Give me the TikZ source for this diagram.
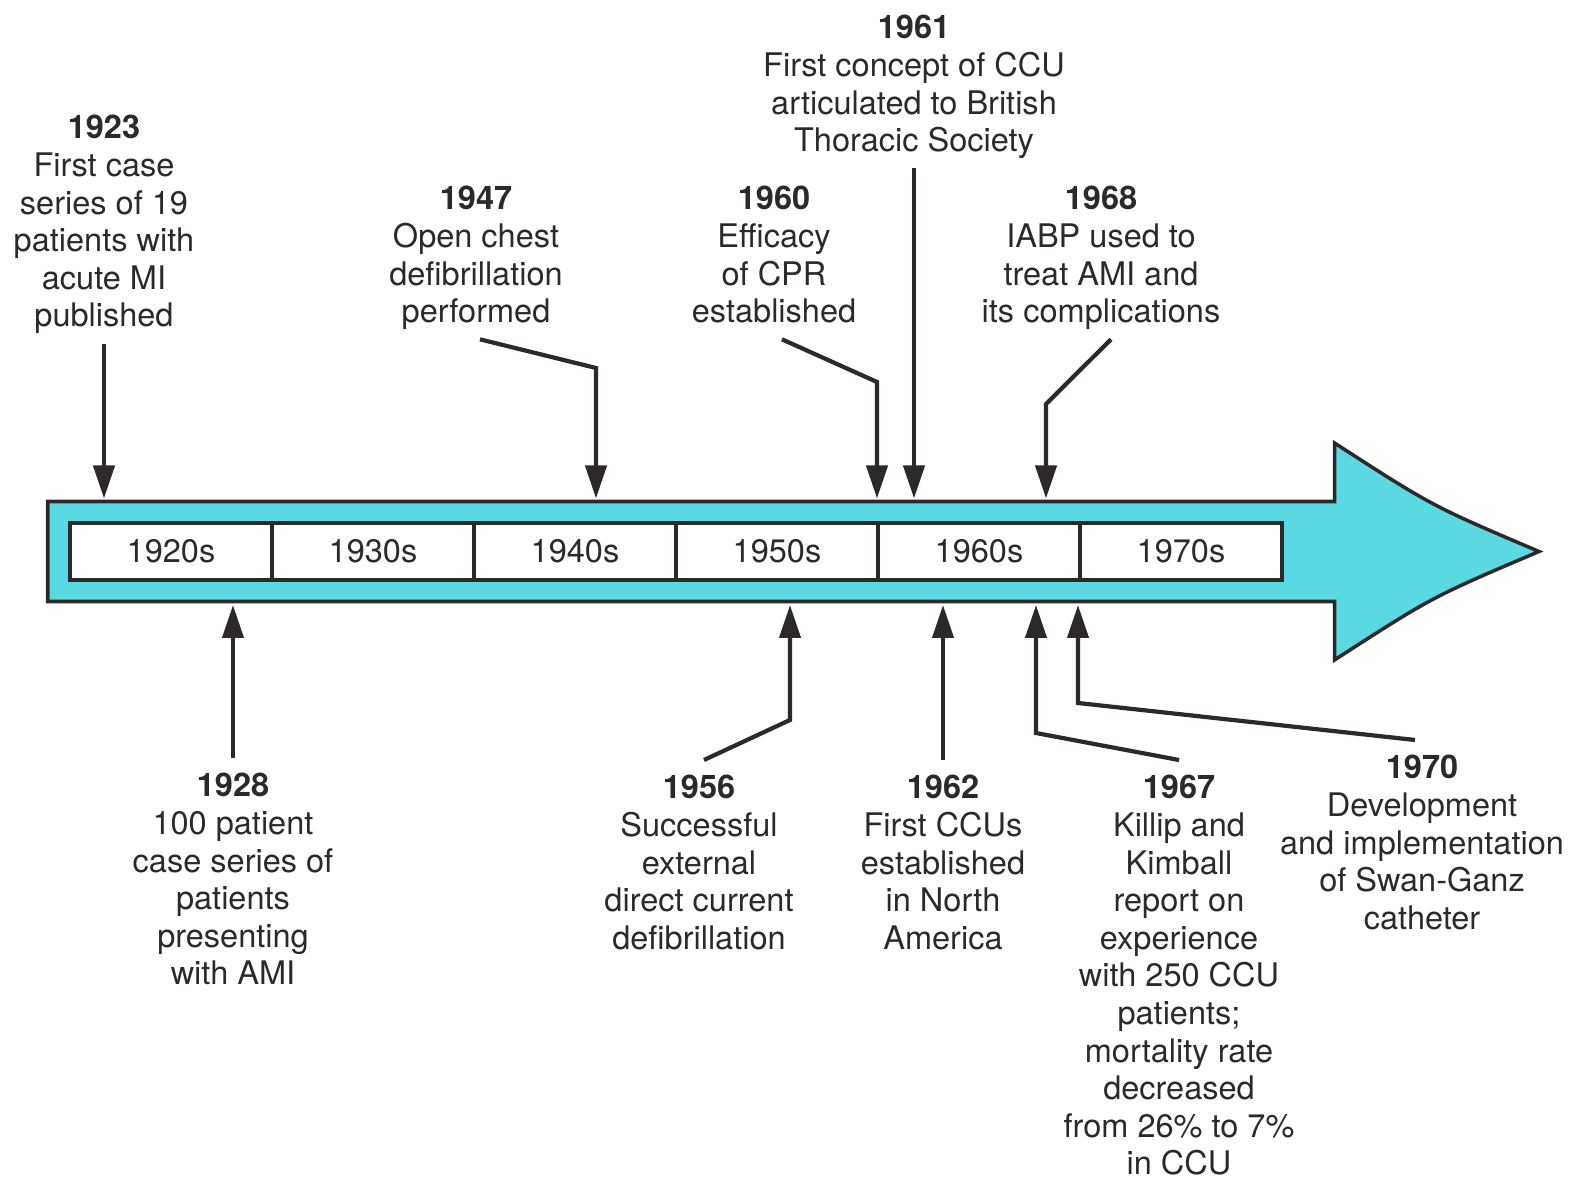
\documentclass[tikz,border=0pt]{standalone}
\usepackage{fontspec}
\setmainfont{TeX Gyre Heros}
\usetikzlibrary{arrows.meta,positioning}
\definecolor{ink}{RGB}{45,41,42}
\definecolor{tlcyan}{RGB}{91,217,226}

\begin{document}
\begin{tikzpicture}[
  >=Stealth,
  every node/.style={font=\fontsize{18.5}{21.4}\selectfont, text=ink},
  event/.style={align=center, anchor=north, inner sep=0pt},
  decade/.style={draw=ink, line width=2pt, fill=white, outer sep=0pt,
                 minimum width=4.04cm, minimum height=1.15cm, inner sep=0pt},
  outline/.style={draw=ink, line width=2pt, fill=tlcyan, line join=miter},
  conn/.style={-{Triangle[length=0.66cm,width=0.42cm]}, line width=2.4pt, draw=ink}
]
\useasboundingbox (0,0) rectangle (31.44,23.52);

%% Timeline arrow
\draw[outline] (0.955,11.49) -- (0.955,13.49) -- (26.69,13.49) -- (26.69,14.66)
  .. controls (28.64,13.40) .. (30.78,12.49)
  .. controls (28.64,11.58) .. (26.69,10.32) -- (26.69,11.49) -- cycle;

%% Decades
\node[decade] at (3.42,12.49)          (d1920) {1920s};
\node[decade, right=0pt of d1920]     (d1930) {1930s};
\node[decade, right=0pt of d1930]     (d1940) {1940s};
\node[decade, right=0pt of d1940]     (d1950) {1950s};
\node[decade, right=0pt of d1950]     (d1960) {1960s};
\node[decade, right=0pt of d1960]     (d1970) {1970s};

%% Edges of the shaft
\coordinate (upper) at (0,13.55);
\coordinate (lower) at (0,11.42);

%% Events above
\node[event] at (2.08,21.22)  (t1923) {\textbf{1923}\\First case\\series of 19\\patients with\\acute MI\\published\strut};
\node[event] at (9.52,19.80)  (t1947) {\textbf{1947}\\Open chest\\defibrillation\\performed\strut};
\node[event] at (15.48,19.80) (t1960) {\textbf{1960}\\Efficacy\\of CPR\\established\strut};
\node[event] at (18.28,23.22) (t1961) {\textbf{1961}\\First concept of CCU\\articulated to British\\Thoracic Society\strut};
\node[event] at (22.02,19.80) (t1968) {\textbf{1968}\\IABP used to\\treat AMI and\\its complications\strut};

%% Events below
\node[event] at (4.66,8.06)   (t1928) {\textbf{1928}\\100 patient\\case series of\\patients\\presenting\\with AMI};
\node[event] at (13.98,8.02)  (t1956) {\textbf{1956}\\Successful\\external\\direct current\\defibrillation};
\node[event] at (18.86,8.02)  (t1962) {\textbf{1962}\\First CCUs\\established\\in North\\America};
\node[event] at (23.58,8.02)  (t1967) {\textbf{1967}\\Killip and\\Kimball\\report on\\experience\\with 250 CCU\\patients;\\mortality rate\\decreased\\from 26\% to 7\%\\in CCU};
\node[event] at (28.44,8.42)  (t1970) {\textbf{1970}\\Development\\and implementation\\of Swan-Ganz\\catheter};

%% Bends
\coordinate (b1947) at (11.92,16.16);
\coordinate (b1960) at (17.54,15.88);
\coordinate (b1968) at (20.92,15.44);
\coordinate (b1956) at (15.80,9.12);
\coordinate (b1967) at (20.72,8.86);
\coordinate (b1970) at (21.56,9.46);

%% Connectors
\draw[conn] ([yshift=-0.1cm]t1923.south) -- (t1923.south |- upper);
\draw[conn] ([xshift=0.08cm,yshift=-0.1cm]t1947.south) -- (b1947) -- (b1947 |- upper);
\draw[conn] ([xshift=0.16cm,yshift=-0.1cm]t1960.south) -- (b1960) -- (b1960 |- upper);
\draw[conn] ([yshift=-0.1cm]t1961.south) -- (t1961.south |- upper);
\draw[conn] ([xshift=0.2cm,yshift=-0.1cm]t1968.south) -- (b1968) -- (b1968 |- upper);

\draw[conn] ([yshift=0.3cm]t1928.north) -- (t1928.north |- lower);
\draw[conn] ([xshift=0.1cm,yshift=0.3cm]t1956.north) -- (b1956) -- (b1956 |- lower);
\draw[conn] ([yshift=0.3cm]t1962.north) -- (t1962.north |- lower);
\draw[conn] ([yshift=0.3cm]t1967.north) -- (b1967) -- (b1967 |- lower);
\draw[conn] ([xshift=-0.14cm,yshift=0.3cm]t1970.north) -- (b1970) -- (b1970 |- lower);
\end{tikzpicture}
\end{document}
